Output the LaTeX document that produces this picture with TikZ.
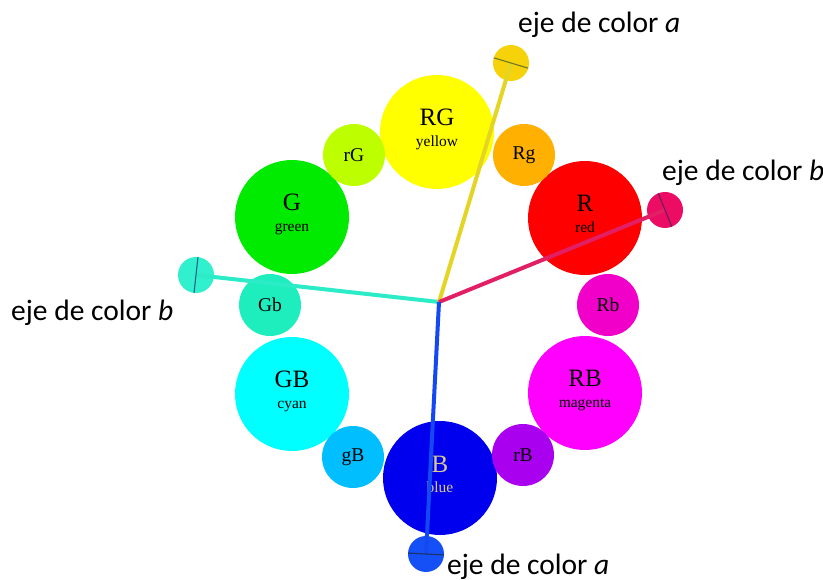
\documentclass[tikz,border=0pt]{standalone}
\usepackage{fontspec}
\setmainfont{Liberation Serif}
\newfontfamily\labelfont{Carlito}
\usetikzlibrary{calc}

% hue circle fills
\definecolor{cRG}{RGB}{255,255,0}
\definecolor{cG}{RGB}{0,235,0}
\definecolor{cR}{RGB}{255,0,0}
\definecolor{cGB}{RGB}{0,255,255}
\definecolor{cRB}{RGB}{255,0,255}
\definecolor{cB}{RGB}{0,0,238}
\definecolor{crG}{RGB}{190,255,0}
\definecolor{cRg}{RGB}{255,176,0}
\definecolor{cRb}{RGB}{240,0,200}
\definecolor{crB}{RGB}{170,0,240}
\definecolor{cgB}{RGB}{0,190,255}
\definecolor{cGb}{RGB}{30,238,190}
\definecolor{cBtext}{RGB}{216,200,150}
% colour axes
\definecolor{axA}{RGB}{228,212,36}
\definecolor{axAdot}{RGB}{246,210,10}
\definecolor{axAtick}{RGB}{110,120,40}
\definecolor{axB}{RGB}{226,30,100}
\definecolor{axBdot}{RGB}{236,12,100}
\definecolor{axBtick}{RGB}{105,30,90}
\definecolor{axC}{RGB}{44,236,200}
\definecolor{axCdot}{RGB}{48,240,205}
\definecolor{axCtick}{RGB}{30,95,140}
\definecolor{axD}{RGB}{20,72,242}
\definecolor{axDdot}{RGB}{20,80,245}
\definecolor{axDtick}{RGB}{30,50,100}

\begin{document}
\begin{tikzpicture}[x=1pt,y=-1pt,
  bigdot/.style={circle, inner sep=0pt, minimum size=114pt},
  smalldot/.style={circle, inner sep=0pt, minimum size=62pt,
    font=\fontsize{19.5}{19.5}\selectfont},
  axdot/.style={circle, inner sep=0pt, minimum size=36pt},
  bigtxt/.style={font=\fontsize{25}{25}\selectfont, anchor=base, inner sep=0pt},
  subtxt/.style={font=\fontsize{15.5}{15.5}\selectfont, anchor=base, inner sep=0pt},
  axis/.style={line width=4pt},
  tick/.style={line width=1.1pt},
  axlabel/.style={font=\labelfont\fontsize{29.5}{29.5}\selectfont, inner sep=0pt, anchor=base west}]

\useasboundingbox (0,0) rectangle (823,580);
\fill[white] (0,0) rectangle (823,580);

% primary and secondary hues
\node[bigdot, fill=cRG] (RG) at (437,132) {};
\node[bigdot, fill=cG]  (G)  at (292,217) {};
\node[bigdot, fill=cR]  (R)  at (585,218) {};
\node[bigdot, fill=cGB] (GB) at (292,394) {};
\node[bigdot, fill=cRB] (RB) at (585,393) {};
\node[bigdot, fill=cB]  (B)  at (440,478) {};

\node[bigtxt] (RG1) at ([yshift=6pt]RG.center) {RG};
\node[subtxt] (RG2) at ([yshift=-14.7pt]RG.center) {yellow};
\node[bigtxt] (G1) at ([yshift=6pt]G.center) {G};
\node[subtxt] (G2) at ([yshift=-14.7pt]G.center) {green};
\node[bigtxt] (R1) at ([yshift=6pt]R.center) {R};
\node[subtxt] (R2) at ([yshift=-14.7pt]R.center) {red};
\node[bigtxt] (GB1) at ([yshift=6pt]GB.center) {GB};
\node[subtxt] (GB2) at ([yshift=-14.7pt]GB.center) {cyan};
\node[bigtxt] (RB1) at ([yshift=6pt]RB.center) {RB};
\node[subtxt] (RB2) at ([yshift=-14.7pt]RB.center) {magenta};
\node[bigtxt, text=cBtext] (B1) at ([yshift=6pt]B.center) {B};
\node[subtxt, text=cBtext] (B2) at ([yshift=-14.7pt]B.center) {blue};

% intermediate hues
\node[smalldot, fill=crG] (rG) at (354,155) {rG};
\node[smalldot, fill=cRg] (Rg) at (524,155) {Rg};
\node[smalldot, fill=cGb] (Gb) at (270,305) {Gb};
\node[smalldot, fill=cRb] (Rb) at (608,305) {Rb};
\node[smalldot, fill=cgB] (gB) at (353,457) {gB};
\node[smalldot, fill=crB] (rB) at (523,455) {rB};

% colour axes
\coordinate (O) at (439,302);
\node[axdot, fill=axAdot] (ya) at (511,63) {};
\node[axdot, fill=axBdot] (rb) at (665,210) {};
\node[axdot, fill=axCdot] (lb) at (196,275) {};
\node[axdot, fill=axDdot] (ba) at (426,554) {};

\draw[axis, axC] (O) -- (lb.center);
\draw[axis, axA] (O) -- (ya.center);
\draw[axis, axB] (O) -- (rb.center);
\draw[axis, axD] (O) -- (ba.center);

\draw[tick, axAtick] ($(ya.center)!18pt!90:(O)$) -- ($(ya.center)!18pt!-90:(O)$);
\draw[tick, axBtick] ($(rb.center)!18pt!90:(O)$) -- ($(rb.center)!18pt!-90:(O)$);
\draw[tick, axCtick] ($(lb.center)!18pt!90:(O)$) -- ($(lb.center)!18pt!-90:(O)$);
\draw[tick, axDtick] ($(ba.center)!18pt!90:(O)$) -- ($(ba.center)!18pt!-90:(O)$);

% axis labels
\node[axlabel] (la) at (518,33) {eje de color \textit{a}};
\node[axlabel] (lbr) at (662,181) {eje de color \textit{b}};
\node[axlabel] (lbl) at (11,321) {eje de color \textit{b}};
\node[axlabel] (lab) at (447,574) {eje de color \textit{a}};
\end{tikzpicture}
\end{document}
